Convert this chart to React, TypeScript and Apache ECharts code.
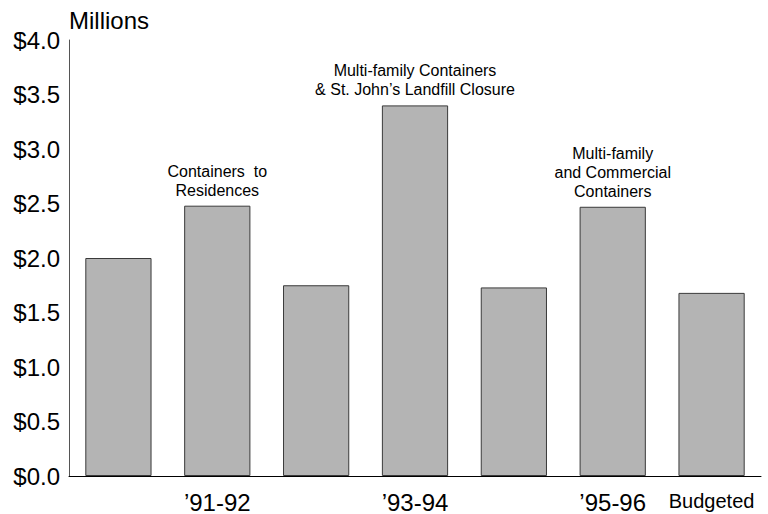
import React, { useEffect, useRef } from "react";
import * as echarts from "echarts";

// Spending by fiscal year, in millions of dollars
const categories = ["", "’91-92", "", "’93-94", "", "’95-96", "Budgeted"];
const values = [2.0, 2.48, 1.75, 3.4, 1.73, 2.47, 1.68];
// Notes printed above selected bars (empty string = no note)
const notes = [
  "",
  "Containers  to\nResidences",
  "",
  "Multi-family Containers\n& St. John’s Landfill Closure",
  "",
  "Multi-family\nand Commercial\nContainers",
  "",
];
const yTicks = { min: 0, max: 4, interval: 0.5 };

const FONT = "Liberation Sans, Arial, Helvetica, sans-serif";

export default function App() {
  const ref = useRef<HTMLDivElement>(null);

  useEffect(() => {
    if (!ref.current) return;
    document.body.style.margin = "0";
    const chart = echarts.init(ref.current, null, { renderer: "svg" });

    const data = values.map((v, i) =>
      notes[i]
        ? {
            value: v,
            label: {
              show: true,
              position: "top",
              distance: 6,
              formatter: notes[i],
              fontSize: 16,
              lineHeight: 19,
              color: "#000",
              fontFamily: FONT,
              align: "center",
            },
          }
        : v
    );

    chart.setOption({
      animation: false,
      backgroundColor: "#fff",
      textStyle: { fontFamily: FONT },
      grid: { left: 69, right: 7, top: 40, bottom: 38, containLabel: false },
      xAxis: {
        type: "category",
        data: categories,
        axisLine: { show: true, lineStyle: { color: "#000", width: 1 } },
        axisTick: { show: false },
        axisLabel: {
          interval: 0,
          margin: 14,
          fontSize: 24,
          color: "#000",
          fontFamily: FONT,
          formatter: (v: string) => (v === "Budgeted" ? `{b|${v}}` : v),
          rich: {
            b: { fontSize: 20, color: "#000", fontFamily: FONT, padding: [1, 0, 0, 0] },
          },
        },
        splitLine: { show: false },
      },
      yAxis: {
        type: "value",
        min: yTicks.min,
        max: yTicks.max,
        interval: yTicks.interval,
        name: "Millions",
        nameLocation: "end",
        nameGap: 8,
        nameTextStyle: {
          fontSize: 24,
          color: "#000",
          align: "left",
          fontFamily: FONT,
        },
        axisLine: { show: true, lineStyle: { color: "#555", width: 1 } },
        axisTick: { show: false },
        splitLine: { show: false },
        axisLabel: {
          margin: 9,
          fontSize: 24,
          color: "#000",
          fontFamily: FONT,
          formatter: (v: number) => "$" + v.toFixed(1),
        },
      },
      series: [
        {
          type: "bar",
          data,
          barCategoryGap: "33%",
          itemStyle: { color: "#b4b4b4", borderColor: "#3a3a3a", borderWidth: 1 },
        },
      ],
    });

    return () => chart.dispose();
  }, []);

  return <div ref={ref} style={{ width: 768, height: 514 }} />;
}
